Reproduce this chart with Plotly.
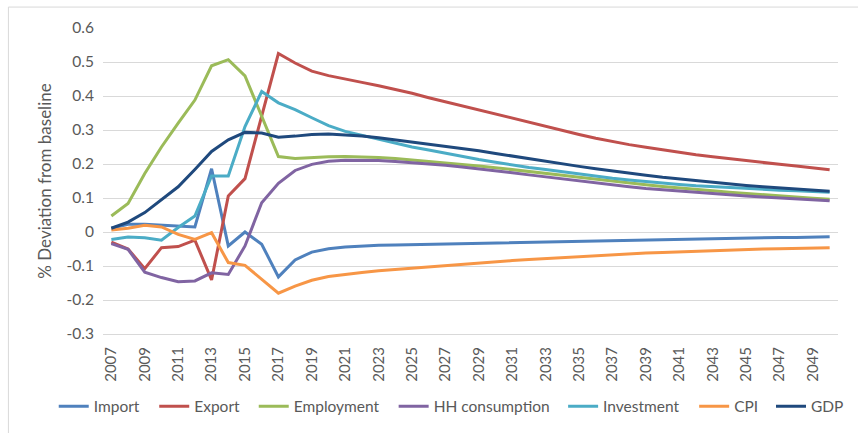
import plotly.graph_objects as go

years = [str(y) for y in range(2007, 2051)]

import_dev = [0.011, 0.023, 0.023, 0.020, 0.018, 0.015, 0.186, -0.041, 0.000, -0.036,
              -0.132, -0.082, -0.059, -0.049, -0.044, -0.041, -0.039, -0.038, -0.037, -0.035,
              -0.034, -0.033, -0.032, -0.031, -0.030, -0.029, -0.028, -0.027, -0.026, -0.025,
              -0.024, -0.023, -0.022, -0.021, -0.021, -0.020, -0.019, -0.018, -0.018, -0.017,
              -0.016, -0.016, -0.015, -0.014]
export_dev = [-0.030, -0.050, -0.108, -0.046, -0.043, -0.024, -0.141, 0.106, 0.157, 0.340,
              0.525, 0.497, 0.473, 0.460, 0.449, 0.440, 0.430, 0.420, 0.408, 0.395,
              0.383, 0.370, 0.357, 0.345, 0.333, 0.321, 0.309, 0.298, 0.287, 0.276,
              0.266, 0.257, 0.249, 0.241, 0.234, 0.227, 0.221, 0.215, 0.209, 0.204,
              0.199, 0.194, 0.189, 0.183]
employment_dev = [0.047, 0.084, 0.172, 0.250, 0.320, 0.388, 0.489, 0.507, 0.459, 0.339,
                  0.222, 0.216, 0.219, 0.221, 0.222, 0.221, 0.219, 0.216, 0.212, 0.208,
                  0.204, 0.199, 0.194, 0.189, 0.184, 0.179, 0.173, 0.167, 0.161, 0.155,
                  0.149, 0.144, 0.139, 0.134, 0.129, 0.125, 0.121, 0.117, 0.113, 0.109,
                  0.105, 0.102, 0.099, 0.096]
hh_consumption_dev = [-0.034, -0.051, -0.118, -0.134, -0.146, -0.144, -0.120, -0.125, -0.041, 0.086,
                      0.143, 0.181, 0.199, 0.208, 0.211, 0.211, 0.210, 0.207, 0.204, 0.200,
                      0.196, 0.191, 0.186, 0.181, 0.174, 0.168, 0.162, 0.155, 0.149, 0.143,
                      0.138, 0.133, 0.128, 0.124, 0.120, 0.116, 0.112, 0.109, 0.106, 0.103,
                      0.100, 0.097, 0.095, 0.092]
investment_dev = [-0.022, -0.015, -0.017, -0.024, 0.013, 0.047, 0.165, 0.165, 0.310, 0.413,
                  0.380, 0.360, 0.336, 0.313, 0.296, 0.284, 0.272, 0.260, 0.250, 0.241,
                  0.231, 0.221, 0.213, 0.205, 0.197, 0.190, 0.184, 0.177, 0.170, 0.164,
                  0.158, 0.153, 0.148, 0.144, 0.140, 0.136, 0.133, 0.130, 0.127, 0.125,
                  0.123, 0.121, 0.119, 0.117]
cpi_dev = [0.006, 0.011, 0.020, 0.015, -0.007, -0.022, -0.002, -0.090, -0.098, -0.139,
           -0.180, -0.159, -0.142, -0.131, -0.124, -0.119, -0.114, -0.110, -0.106, -0.102,
           -0.098, -0.094, -0.090, -0.087, -0.084, -0.081, -0.078, -0.075, -0.072, -0.069,
           -0.067, -0.064, -0.062, -0.060, -0.058, -0.056, -0.055, -0.053, -0.052, -0.050,
           -0.049, -0.048, -0.047, -0.046]
gdp_dev = [0.011, 0.029, 0.057, 0.096, 0.133, 0.184, 0.237, 0.271, 0.293, 0.291,
           0.279, 0.282, 0.287, 0.288, 0.286, 0.282, 0.277, 0.271, 0.264, 0.258,
           0.252, 0.245, 0.239, 0.231, 0.223, 0.216, 0.208, 0.200, 0.193, 0.186,
           0.179, 0.172, 0.167, 0.161, 0.156, 0.150, 0.146, 0.141, 0.137, 0.133,
           0.130, 0.126, 0.123, 0.120]

series_names = ["Import", "Export", "Employment", "HH consumption", "Investment", "CPI", "GDP"]
series_values = [import_dev, export_dev, employment_dev, hh_consumption_dev,
                 investment_dev, cpi_dev, gdp_dev]
series_colors = ["#4F81BD", "#C0504D", "#9BBB59", "#8064A2", "#4BACC6", "#F79646", "#1F497D"]

y_ticks = [-0.3, -0.2, -0.1, 0, 0.1, 0.2, 0.3, 0.4, 0.5, 0.6]
y_tick_text = ["-0.3", "-0.2", "-0.1", "0", "0.1", "0.2", "0.3", "0.4", "0.5", "0.6"]
x_ticks = years[::2]

W, H = 858, 433
L, R, T, B = 103, 9, 28, 98
pw, ph = W - L - R, H - T - B

def px_x(x):
    return (x - L) / pw

def px_y(y):
    return (H - B - y) / ph

text_color = "#595959"
font_family = "Lato, 'Open Sans', sans-serif"

# left edge (px) of each legend label, one legend box per series
legend_text_left = [94, 196, 297, 439, 611, 744, 822]
TEXT_OFFSET = 41

fig = go.Figure()
legend_layout = {}
for i, (name, vals, col) in enumerate(zip(series_names, series_values, series_colors)):
    key = "legend" if i == 0 else f"legend{i + 1}"
    fig.add_trace(go.Scatter(
        x=years, y=vals, name=name, mode="lines",
        line=dict(color=col, width=3), legend=key,
    ))
    legend_layout[key] = dict(
        orientation="h", x=px_x(legend_text_left[i] - TEXT_OFFSET), xanchor="left",
        y=px_y(408), yanchor="middle", bgcolor="rgba(0,0,0,0)",
        font=dict(size=15.5, color=text_color), itemwidth=30,
    )

fig.update_layout(
    width=W, height=H,
    margin=dict(l=L, r=R, t=T, b=B),
    paper_bgcolor="white", plot_bgcolor="white",
    font=dict(family=font_family, size=14, color=text_color),
    showlegend=True,
    shapes=[
        dict(type="rect", xref="paper", yref="paper",
             x0=px_x(7), x1=px_x(870), y0=px_y(445), y1=px_y(7),
             line=dict(color="#D9D9D9", width=1), layer="below"),
    ],
    **legend_layout,
)

fig.update_xaxes(
    type="category", range=[-0.5, len(years) - 0.5],
    tickmode="array", tickvals=x_ticks, ticktext=x_ticks, tickangle=-90,
    showgrid=False, showline=True, linecolor="#D9D9D9", linewidth=1,
    ticks="", tickfont=dict(size=15, color=text_color), zeroline=False,
    ticklabelstandoff=6,
)
fig.update_yaxes(
    range=[-0.3, 0.6], tickmode="array", tickvals=y_ticks, ticktext=y_tick_text,
    showgrid=True, gridcolor="#D9D9D9", gridwidth=1, zeroline=False,
    showline=False, ticks="", tickfont=dict(size=15.5, color=text_color),
    ticklabelstandoff=8,
    title=dict(text="% Deviation from baseline", font=dict(size=17, color=text_color), standoff=10),
)

fig.write_html("out.html")
